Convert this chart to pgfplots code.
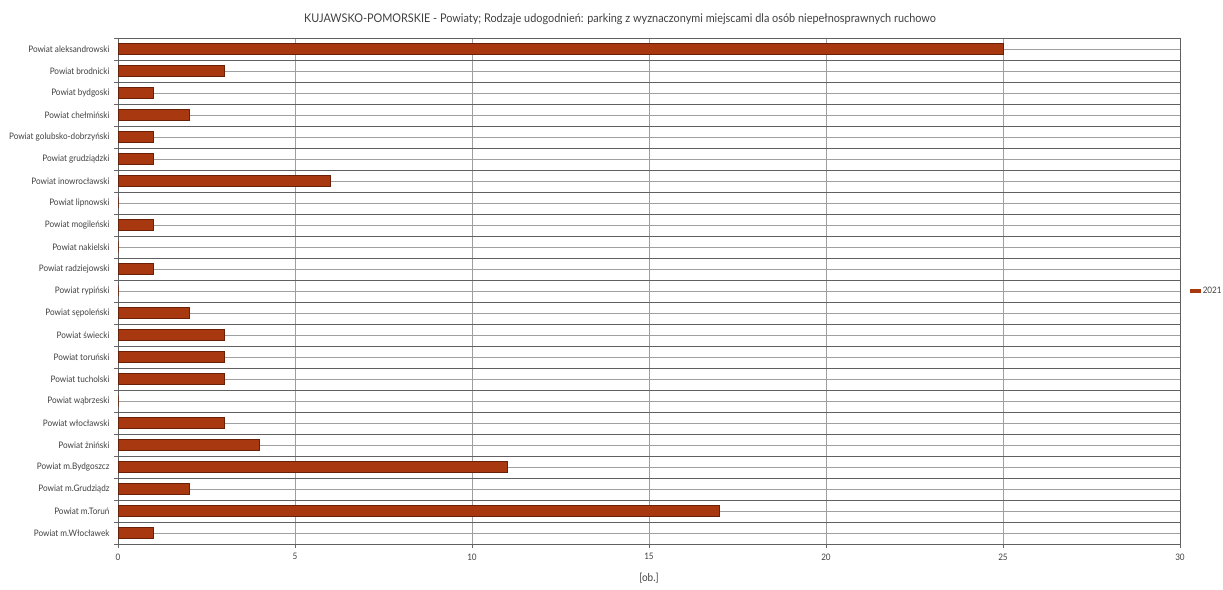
\documentclass[border=0pt]{standalone}
\usepackage{fontspec}
\setmainfont{Lato}[FakeStretch=0.91]
\usepackage{pgfplots}
\pgfplotsset{compat=1.18}
\definecolor{barfill}{HTML}{A8380F}
\definecolor{barline}{HTML}{6A2008}
\definecolor{txt}{HTML}{404040}
\begin{document}
\begin{tikzpicture}[x=1bp,y=1bp]
\useasboundingbox (0,0) rectangle (1223,590);
\node[text=txt, font=\fontsize{12}{14}\selectfont] at (620,571) {KUJAWSKO-POMORSKIE - Powiaty; Rodzaje udogodnień: parking z wyznaczonymi miejscami dla osób niepełnosprawnych ruchowo};
\begin{axis}[
  at={(118bp,46bp)}, anchor=south west,
  width=1062bp, height=506bp, scale only axis,
  xmin=0, xmax=30, ymin=-0.5, ymax=22.5, y dir=reverse,
  xtick={0,5,...,30},
  ytick={0,...,22},
  minor ytick={-0.5,0.5,...,22.5},
  tick pos=left,
  yticklabels={Powiat aleksandrowski,Powiat brodnicki,Powiat bydgoski,Powiat chełmiński,Powiat golubsko-dobrzyński,Powiat grudziądzki,Powiat inowrocławski,Powiat lipnowski,Powiat mogileński,Powiat nakielski,Powiat radziejowski,Powiat rypiński,Powiat sępoleński,Powiat świecki,Powiat toruński,Powiat tucholski,Powiat wąbrzeski,Powiat włocławski,Powiat żniński,Powiat m.Bydgoszcz,Powiat m.Grudziądz,Powiat m.Toruń,Powiat m.Włocławek},
  /pgf/number format/assume math mode=true,
  tick label style={text=txt, font=\fontsize{9}{10}\selectfont},
  yticklabel style={xshift=-1bp},
  xticklabel style={yshift=-2bp},
  xlabel={[ob.]},
  xlabel style={text=txt, font=\fontsize{11}{12}\selectfont, yshift=-6bp},
  tick align=outside,
  major tick length=4bp, minor tick length=4bp,
  major y tick style={draw=none},
  minor y tick style={draw=gray!80!black, line width=0.8bp},
  major x tick style={draw=gray!80!black, line width=0.8bp},
  xmajorgrids, ymajorgrids, yminorgrids,
  major grid style={draw=gray!75, line width=0.9bp},
  minor grid style={draw=gray!75!black, line width=0.9bp},
  axis line style={draw=gray!75!black, line width=0.9bp},
  legend style={at={(1.0094,0.5)}, anchor=west, draw=none, fill=none, text=txt, font=\fontsize{9}{10}\selectfont, inner sep=0pt},
  legend image code/.code={\fill[barfill] (0bp,-1.5bp) rectangle (10bp,1.5bp);},
]
\addplot[xbar, bar width=11bp, fill=barfill, draw=barline, line width=0.6bp] coordinates {
(25,0) (3,1) (1,2) (2,3) (1,4) (1,5) (6,6) (0,7) (1,8) (0,9) (1,10) (0,11) (2,12) (3,13) (3,14) (3,15) (0,16) (3,17) (4,18) (11,19) (2,20) (17,21) (1,22)
};
\addlegendentry{2021}
\end{axis}
\end{tikzpicture}
\end{document}
